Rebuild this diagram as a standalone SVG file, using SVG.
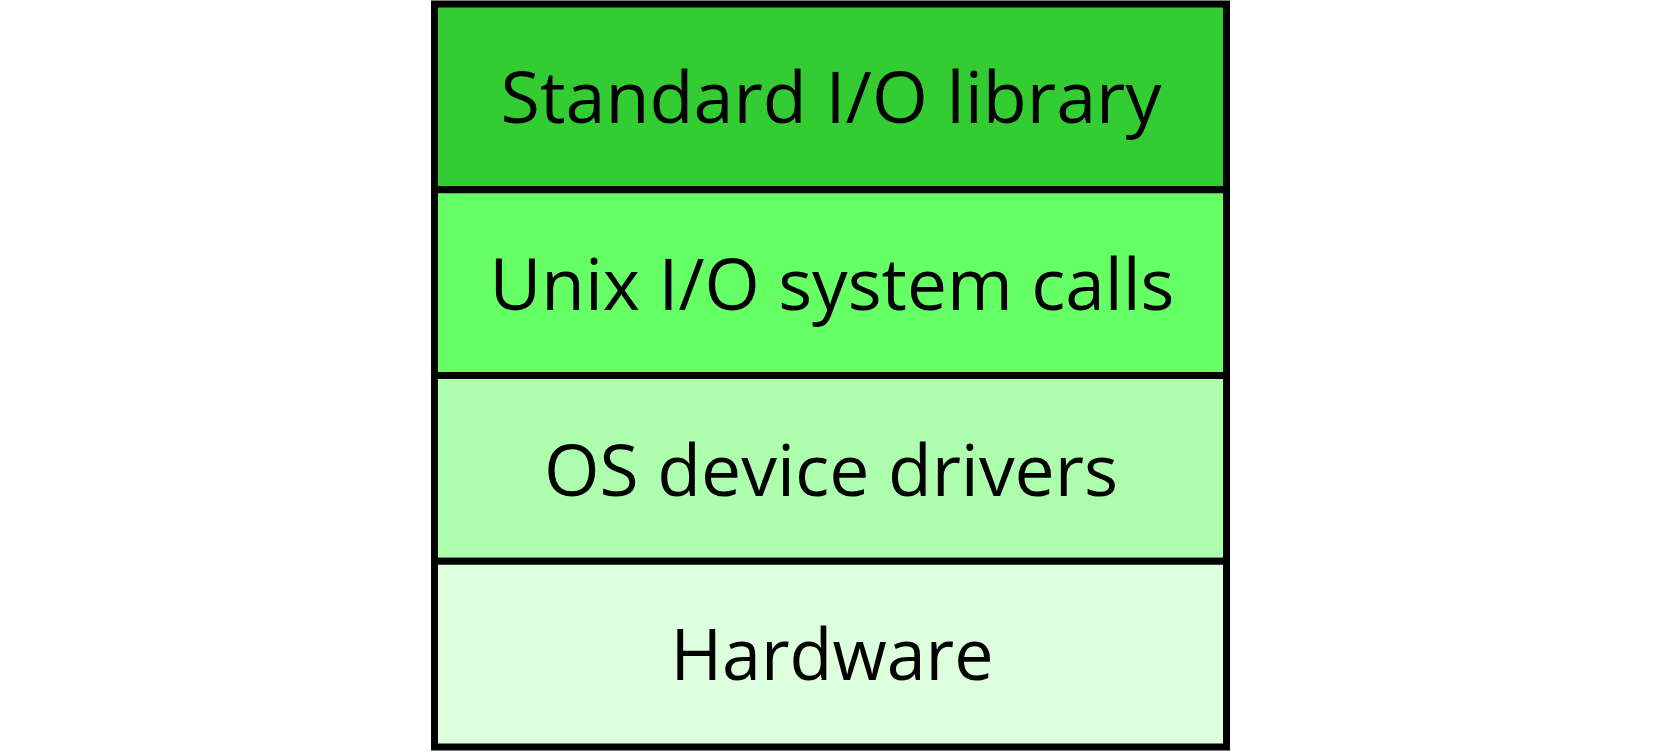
<svg xmlns="http://www.w3.org/2000/svg" width="1662" height="751" viewBox="0 0 1662 751">
<style>
.layer{stroke:#000;stroke-width:7}
.lbl{font-family:"Open Sans","Noto Sans","Liberation Sans",sans-serif;font-size:72px;fill:#000;text-anchor:middle}
</style>
<rect width="1662" height="751" fill="#fff"/>
<g id="std-io">
<rect class="layer" x="434.5" y="4" width="792" height="185.75" fill="#33cc33"/>
<text class="lbl" x="831" y="123" textLength="661" lengthAdjust="spacingAndGlyphs">Standard I/O library</text>
</g>
<g id="unix-io">
<rect class="layer" x="434.5" y="189.75" width="792" height="185.75" fill="#66ff66"/>
<text class="lbl" x="832" y="310" textLength="685" lengthAdjust="spacingAndGlyphs">Unix I/O system calls</text>
</g>
<g id="drivers">
<rect class="layer" x="434.5" y="375.5" width="792" height="185.75" fill="#adffad"/>
<text class="lbl" x="831" y="495.5" textLength="574" lengthAdjust="spacingAndGlyphs">OS device drivers</text>
</g>
<g id="hardware">
<rect class="layer" x="434.5" y="561.25" width="792" height="185.75" fill="#ddffdd"/>
<text class="lbl" x="832" y="680" textLength="323" lengthAdjust="spacingAndGlyphs">Hardware</text>
</g>
<g id="connectors"></g>
</svg>
